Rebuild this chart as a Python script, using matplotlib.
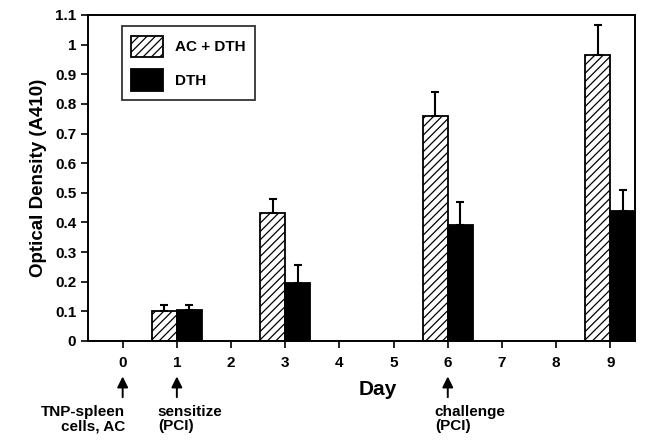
import numpy as np
import matplotlib.pyplot as plt

plt.rcParams['font.family'] = ['Liberation Sans', 'DejaVu Sans']
plt.rcParams['font.weight'] = 'bold'
plt.rcParams['hatch.linewidth'] = 0.9

# data
days = [1, 3, 6, 9]
ac_dth = [0.10, 0.43, 0.76, 0.965]
ac_dth_err = [0.02, 0.05, 0.08, 0.10]
dth = [0.105, 0.195, 0.39, 0.44]
dth_err = [0.015, 0.06, 0.08, 0.07]
tick_days = list(range(10))
events = [(0, "TNP-spleen\ncells, AC", "right", 0.05),
          (1, "sensitize\n(PCI)", "left", -0.35),
          (6, "challenge\n(PCI)", "left", -0.24)]

fig = plt.figure(figsize=(6.47, 4.41), dpi=100)
ax = fig.add_axes([0.136, 0.227, 0.845, 0.739])

w = 0.46
x = np.array(days)
ax.bar(x - w / 2, ac_dth, w, color="white", edgecolor="black", hatch="////",
       linewidth=1.3, label="AC + DTH", zorder=2)
ax.bar(x + w / 2, dth, w, color="black", edgecolor="black", linewidth=1.3,
       label="DTH", zorder=2)
ax.errorbar(x - w / 2, ac_dth, yerr=[np.zeros(len(days)), ac_dth_err], fmt="none",
            ecolor="black", elinewidth=1.5, capsize=3, capthick=1.5, zorder=3)
ax.errorbar(x + w / 2, dth, yerr=[np.zeros(len(days)), dth_err], fmt="none",
            ecolor="black", elinewidth=1.5, capsize=3, capthick=1.5, zorder=3)

ax.set_xlim(-0.64, 9.45)
ax.set_ylim(0, 1.1)
ax.set_xticks(tick_days)
ax.set_yticks(np.arange(0, 1.11, 0.1))
ax.set_yticklabels(["0", "0.1", "0.2", "0.3", "0.4", "0.5", "0.6", "0.7", "0.8", "0.9", "1", "1.1"])
ax.tick_params(axis="both", direction="out", length=5, width=1.2, labelsize=11)
ax.tick_params(axis="x", pad=6)
for s in ax.spines.values():
    s.set_linewidth(1.4)

ax.set_ylabel("Optical Density (A410)", fontsize=13.5, fontweight="bold", labelpad=6)
ax.set_xlabel("Day", fontsize=15, fontweight="bold", labelpad=2)
ax.xaxis.set_label_coords(0.53, -0.12)

leg = ax.legend(loc="upper left", bbox_to_anchor=(0.062, 0.965), fontsize=11,
                frameon=True, fancybox=False, edgecolor="black", handlelength=2.1,
                handleheight=1.8, borderpad=0.6, labelspacing=0.8, handletextpad=0.8,
                borderaxespad=0)
leg.get_frame().set_linewidth(1.3)

for d, txt, ha, off in events:
    ax.annotate("", xy=(d, -0.12), xytext=(d, -0.19), xycoords="data",
                annotation_clip=False,
                arrowprops=dict(arrowstyle="-|>", color="black", lw=1.4,
                                mutation_scale=16, shrinkA=0, shrinkB=0))
    ax.text(d + off, -0.215, txt, ha=ha, va="top", fontsize=11, fontweight="bold",
            linespacing=1.05, clip_on=False)

fig.savefig("out.png", dpi=100)
